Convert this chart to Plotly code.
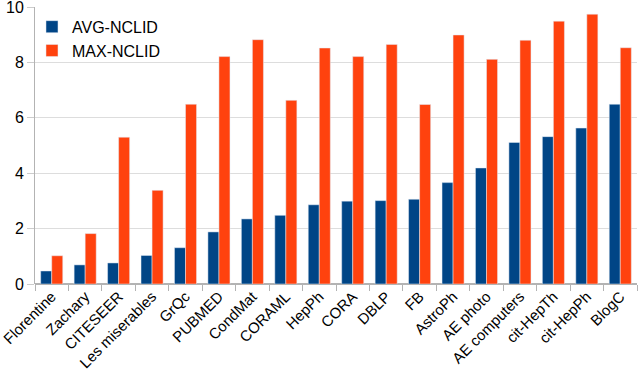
import plotly.graph_objects as go

# dados
graphs = ['Florentine', 'Zachary', 'CITESEER', 'Les miserables', 'GrQc', 'PUBMED',
          'CondMat', 'CORAML', 'HepPh', 'CORA', 'DBLP', 'FB', 'AstroPh', 'AE photo',
          'AE computers', 'cit-HepTh', 'cit-HepPh', 'BlogC']
avg_nclid = [0.47, 0.69, 0.76, 1.03, 1.31, 1.88, 2.35, 2.48, 2.86, 2.99, 3.01, 3.06,
             3.66, 4.19, 5.11, 5.32, 5.63, 6.49]
max_nclid = [1.02, 1.82, 5.30, 3.38, 6.49, 8.21, 8.82, 6.63, 8.52, 8.21, 8.65, 6.48,
             8.99, 8.11, 8.80, 9.49, 9.74, 8.53]

fig = go.Figure()
fig.add_trace(go.Bar(x=graphs, y=avg_nclid, name='AVG-NCLID', marker_color='#004586'))
fig.add_trace(go.Bar(x=graphs, y=max_nclid, name='MAX-NCLID', marker_color='#ff420e'))

fig.update_layout(
    width=640, height=379,
    margin=dict(l=35, r=3, t=7, b=95),
    barmode='group', bargap=0.34, bargroupgap=0,
    plot_bgcolor='white', paper_bgcolor='white',
    font=dict(family='Liberation Sans, Arial, sans-serif', size=16, color='black'),
    legend=dict(x=-0.005, y=0.99, xanchor='left', yanchor='top',
                bgcolor='rgba(0,0,0,0)', font=dict(size=16), itemwidth=30,
                tracegroupgap=0),
)
fig.update_xaxes(tickangle=-45, ticks='outside', tickson='boundaries', ticklen=6,
                 tickcolor='#b3b3b3', showline=False, showgrid=False,
                 tickfont=dict(size=15), automargin=False)
fig.update_yaxes(range=[0, 10], dtick=2, showgrid=True, gridcolor='#dddddd',
                 showline=True, linecolor='#b3b3b3', zeroline=True,
                 zerolinecolor='#b3b3b3', tickfont=dict(size=16),
                 ticks='outside', ticklen=7, tickcolor='#cccccc',
                 ticklabeloverflow='allow', automargin=False)

# a página tem margem de 8px no body; remove para o gráfico ocupar a janela
fig.write_html('out.html', config={'displayModeBar': False},
               post_script="document.body.style.margin='0';")
